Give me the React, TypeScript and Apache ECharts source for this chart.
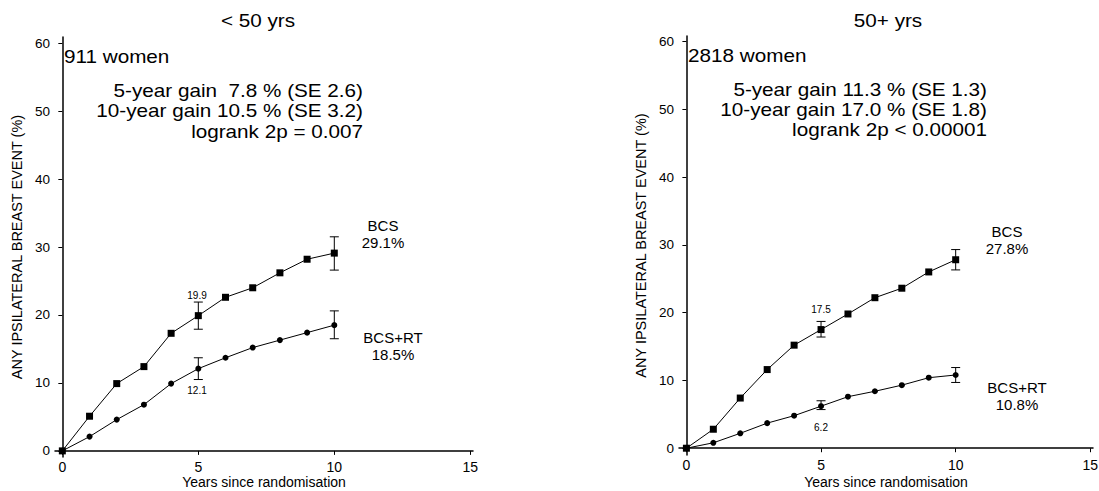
import React, { useEffect, useRef } from "react";
import * as echarts from "echarts";

const years = [0, 1, 2, 3, 4, 5, 6, 7, 8, 9, 10];
const youngBCS = [0, 5.1, 9.9, 12.4, 17.3, 19.9, 22.6, 24.0, 26.2, 28.2, 29.1];
const youngRT = [0, 2.1, 4.6, 6.8, 9.9, 12.1, 13.7, 15.2, 16.3, 17.4, 18.5];
const oldBCS = [0, 2.8, 7.4, 11.6, 15.2, 17.5, 19.8, 22.2, 23.6, 26.0, 27.8];
const oldRT = [0, 0.8, 2.2, 3.7, 4.8, 6.2, 7.6, 8.4, 9.3, 10.4, 10.8];
// [year, low, high]
const youngBCSErr = [[5, 17.9, 21.9], [10, 26.6, 31.5]];
const youngRTErr = [[5, 10.5, 13.7], [10, 16.5, 20.6]];
const oldBCSErr = [[5, 16.4, 18.7], [10, 26.3, 29.3]];
const oldRTErr = [[5, 5.7, 7.0], [10, 9.7, 11.9]];
const xTicks = [0, 5, 10, 15];
const yTicks = [0, 10, 20, 30, 40, 50, 60];
const panelTitles = ["< 50 yrs", "50+ yrs"];
const womenText = ["911 women", "2818 women"];
const statsYoung = ["5-year gain  7.8 % (SE 2.6)", "10-year gain 10.5 % (SE 3.2)", "logrank 2p = 0.007"];
const statsOld = ["5-year gain 11.3 % (SE 1.3)", "10-year gain 17.0 % (SE 1.8)", "logrank 2p < 0.00001"];
const endLabelsYoung = [["BCS", "29.1%"], ["BCS+RT", "18.5%"]];
const endLabelsOld = [["BCS", "27.8%"], ["BCS+RT", "10.8%"]];
const fiveYearYoung = ["19.9", "12.1"];
const fiveYearOld = ["17.5", "6.2"];
const xName = "Years since randomisation";
const yName = "ANY IPSILATERAL BREAST EVENT (%)";

const FONT = "'Liberation Sans', Arial, Helvetica, sans-serif";

export default function App() {
  const ref = useRef<HTMLDivElement>(null);
  useEffect(() => {
    document.body.style.margin = "0";
    if (!ref.current) return;
    const chart = echarts.init(ref.current, null, { renderer: "svg" });

    const errRender = (params: any, api: any) => {
      const lo = api.coord([api.value(0), api.value(1)]);
      const hi = api.coord([api.value(0), api.value(2)]);
      const w = 4.5;
      const st = { stroke: "#000", lineWidth: 1 };
      return {
        type: "group",
        children: [
          { type: "line", shape: { x1: lo[0], y1: lo[1], x2: hi[0], y2: hi[1] }, style: st },
          { type: "line", shape: { x1: lo[0] - w, y1: lo[1], x2: lo[0] + w, y2: lo[1] }, style: st },
          { type: "line", shape: { x1: hi[0] - w, y1: hi[1], x2: hi[0] + w, y2: hi[1] }, style: st },
        ],
      };
    };

    const axisLine = { show: true, lineStyle: { color: "#000", width: 1.5 } };

    const mkX = (gi: number, min: number, max: number, gap: number) => ({
      type: "value",
      gridIndex: gi,
      min,
      max,
      axisLine,
      splitLine: { show: false },
      axisTick: { show: true, length: 4, lineStyle: { color: "#000" }, customValues: xTicks },
      axisLabel: { customValues: xTicks, color: "#000", fontFamily: FONT, fontSize: 14, margin: 3 },
      name: xName,
      nameLocation: "middle",
      nameGap: gap,
      nameMoveOverlap: false,
      nameTextStyle: { color: "#000", fontFamily: FONT, fontSize: 14 },
    });
    const mkY = (gi: number, min: number, max: number) => ({
      type: "value",
      gridIndex: gi,
      min,
      max,
      axisLine,
      splitLine: { show: false },
      axisTick: { show: true, length: 4, lineStyle: { color: "#000" }, customValues: yTicks },
      axisLabel: { customValues: yTicks, color: "#000", fontFamily: FONT, fontSize: 13.5, margin: 5 },
      name: yName,
      nameLocation: "middle",
      nameGap: 31,
      nameMoveOverlap: false,
      nameTextStyle: { color: "#000", fontFamily: FONT, fontSize: 14.5 },
    });

    const lineSeries = (gi: number, data: number[], symbol: string, size: number) => ({
      type: "line",
      xAxisIndex: gi,
      yAxisIndex: gi,
      data: years.map((y, i) => [y, data[i]]),
      symbol,
      symbolSize: size,
      showAllSymbol: true,
      lineStyle: { color: "#000", width: 1 },
      itemStyle: { color: "#000" },
      z: 3,
    });
    const errSeries = (gi: number, data: number[][]) => ({
      type: "custom",
      xAxisIndex: gi,
      yAxisIndex: gi,
      data,
      encode: { x: 0, y: [1, 2] },
      renderItem: errRender,
      z: 2,
    });

    const txt = (text: string, x: number, y: number, size: number, align = "left", sx = 1) => ({
      type: "text",
      x,
      y,
      scaleX: sx,
      style: {
        text,
        fill: "#000",
        font: `${size}px ${FONT}`,
        textAlign: align,
        textVerticalAlign: "middle",
        verticalAlign: "middle",
      },
    });

    const S = 1.15;
    const graphics: any[] = [
      txt(panelTitles[0], 258, 21, 18, "center", S),
      txt(panelTitles[1], 888, 21, 18, "center", S),
      txt(womenText[0], 64, 57, 18, "left", S),
      txt(womenText[1], 688, 56, 18, "left", S),
      txt(statsYoung[0], 363, 91, 18, "right", S),
      txt(statsYoung[1], 363, 111, 18, "right", S),
      txt(statsYoung[2], 363, 132, 18, "right", S),
      txt(statsOld[0], 987, 90, 18, "right", S),
      txt(statsOld[1], 987, 110, 18, "right", S),
      txt(statsOld[2], 987, 130, 18, "right", S),
      txt(endLabelsYoung[0][0], 383, 225, 15, "center"),
      txt(endLabelsYoung[0][1], 383, 242, 15, "center"),
      txt(endLabelsYoung[1][0], 393, 337, 15, "center"),
      txt(endLabelsYoung[1][1], 393, 354, 15, "center"),
      txt(endLabelsOld[0][0], 1007, 231, 15, "center"),
      txt(endLabelsOld[0][1], 1007, 248, 15, "center"),
      txt(endLabelsOld[1][0], 1017, 387, 15, "center"),
      txt(endLabelsOld[1][1], 1017, 404, 15, "center"),
      txt(fiveYearYoung[0], 197, 295, 10, "center"),
      txt(fiveYearYoung[1], 197, 390, 10, "center"),
      txt(fiveYearOld[0], 821, 309, 10, "center"),
      txt(fiveYearOld[1], 821, 427, 10, "center"),
    ];

    chart.setOption({
      animation: false,
      backgroundColor: "#fff",
      textStyle: { fontFamily: FONT },
      grid: [
        { left: 55, top: 37, width: 418, height: 420, outerBoundsMode: "none", containLabel: false },
        { left: 679, top: 36, width: 414, height: 419, outerBoundsMode: "none", containLabel: false },
      ],
      xAxis: [mkX(0, -0.27, 15.1, 18), mkX(1, -0.275, 15.1, 20)],
      yAxis: [mkY(0, -0.9, 60.9), mkY(1, -1.0, 60.8)],
      series: [
        lineSeries(0, youngBCS, "rect", 7),
        lineSeries(0, youngRT, "circle", 6),
        errSeries(0, youngBCSErr),
        errSeries(0, youngRTErr),
        lineSeries(1, oldBCS, "rect", 7),
        lineSeries(1, oldRT, "circle", 6),
        errSeries(1, oldBCSErr),
        errSeries(1, oldRTErr),
      ],
      graphic: graphics,
    });
    return () => chart.dispose();
  }, []);
  return <div ref={ref} style={{ width: 1099, height: 491 }} />;
}
